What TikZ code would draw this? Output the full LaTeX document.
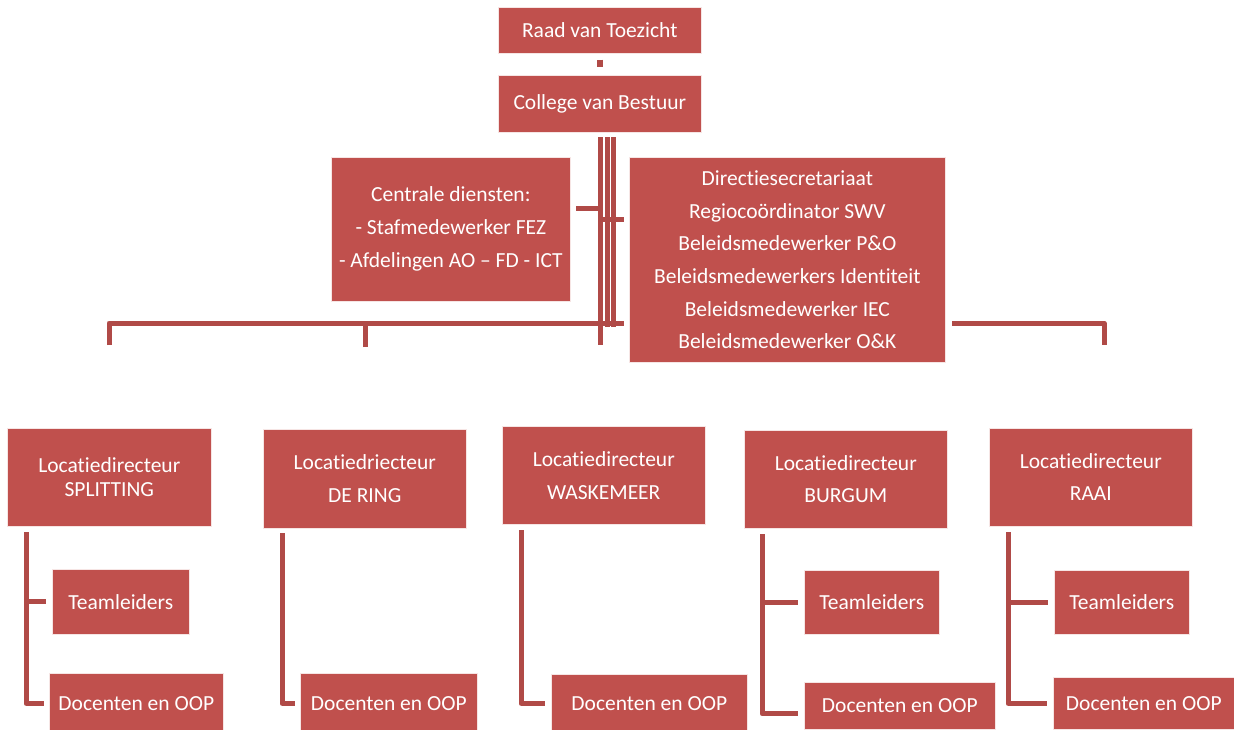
\documentclass[tikz,border=0pt]{standalone}
\usepackage{fontspec}
\setmainfont{Carlito}[Ligatures=CommonOff]
\usetikzlibrary{calc}
\definecolor{boxred}{RGB}{192,80,77}
\definecolor{linered}{RGB}{176,74,71}
\tikzset{
  box/.style={fill=boxred, draw=white!85!boxred, line width=0.6pt, text=white, inner sep=0pt, anchor=north west, align=center},
  conn/.style={draw=linered, line width=5pt},
}
\newcommand{\bx}[6]{\node[box, minimum width=#3pt, minimum height=#4pt, font=\fontsize{21.5}{#5}\selectfont] (#1) at (#2) {#6};}
\begin{document}
\begin{tikzpicture}[x=1pt,y=-1pt]
\useasboundingbox (0,0) rectangle (1234,729);
% connectors first (behind boxes)
\coordinate (v1) at (600,137);
\coordinate (v2) at (607,137);
\coordinate (v3) at (613,137);
\coordinate (busL) at (109,323);
\coordinate (busR) at (1104,323);
\coordinate (busM) at (624,323);
\coordinate (busM2) at (952,323);
\coordinate (d1) at (109,345);
\coordinate (d2) at (365,347);
\coordinate (d3) at (600,345);
\coordinate (d5) at (1104,345);
\coordinate (stubL) at (576,208);
\coordinate (stubR) at (624,219);

\bx{raad}{498,7}{203}{46}{26}{Raad van Toezicht}
\bx{cvb}{498,75}{203}{57}{26}{College van Bestuur}
\bx{cd}{331,157}{239}{144}{33}{Centrale diensten:\\- Stafmedewerker FEZ\\- Afdelingen AO – FD - ICT}

\draw[conn, line width=6pt, shorten <=6pt, shorten >=8pt] (raad.south) -- (cvb.north);
\draw[conn] (v1) -- (d3);
\draw[conn] (v2) -- (607,327);
\draw[conn] (v3) -- (613,327);
\draw[conn] (stubL) -- (600,208);
\draw[conn] (600,219) -- (stubR);
\draw[conn, line join=round] (d1) -- (busL) -- (busM);
\draw[conn] (d2) -- (365,323);
\draw[conn, line join=round] (busM2) -- (busR) -- (d5);

\bx{dir}{629,157}{316}{205}{32.7}{Directiesecretariaat\\Regiocoördinator SWV\\Beleidsmedewerker P\&O\\Beleidsmedewerkers Identiteit\\Beleidsmedewerker IEC\\Beleidsmedewerker O\&K}

% locations
\bx{L1}{7,428}{204}{98}{24}{Locatiedirecteur\\SPLITTING}
\bx{L2}{263,429}{203}{99}{33}{Locatiedriecteur\\DE RING}
\bx{L3}{502,426}{203}{98}{33}{Locatiedirecteur\\WASKEMEER}
\bx{L4}{744,430}{203}{98}{32}{Locatiedirecteur\\BURGUM}
\bx{L5}{989,428}{203}{98}{32}{Locatiedirecteur\\RAAI}

\bx{T1}{52,569}{137}{65}{26}{Teamleiders}
\bx{T4}{804,570}{135}{64}{26}{Teamleiders}
\bx{T5}{1054,570}{135}{64}{26}{Teamleiders}

\bx{D1}{49,673}{174}{60}{26}{Docenten en OOP}
\bx{D2}{300,673}{177}{60}{26}{Docenten en OOP}
\bx{D3}{551,674}{196}{58}{26}{Docenten en OOP}
\bx{D4}{804,682}{191}{47}{26}{Docenten en OOP}
\bx{D5}{1053,677}{181}{52}{26}{Docenten en OOP}

\coordinate (b1) at (26,532);
\coordinate (b2) at (282,533);
\coordinate (b3) at (521,530);
\coordinate (b4) at (762,534);
\coordinate (b5) at (1008,532);

\draw[conn, line join=round, shorten >=5pt] (b1) |- (D1.west);
\draw[conn, shorten >=6pt] (b1 |- T1.west) -- (T1.west);
\draw[conn, line join=round, shorten >=5pt] (b2) |- (D2.west);
\draw[conn, line join=round, shorten >=6pt] (b3) |- (D3.west);
\draw[conn, line join=round, shorten >=6pt] (b4) |- ($(D4.west)+(0,8)$);
\draw[conn, shorten >=6pt] (b4 |- T4.west) -- (T4.west);
\draw[conn, line join=round, shorten >=6pt] (b5) |- (D5.west);
\draw[conn, shorten >=6pt] (b5 |- T5.west) -- (T5.west);
\end{tikzpicture}
\end{document}
